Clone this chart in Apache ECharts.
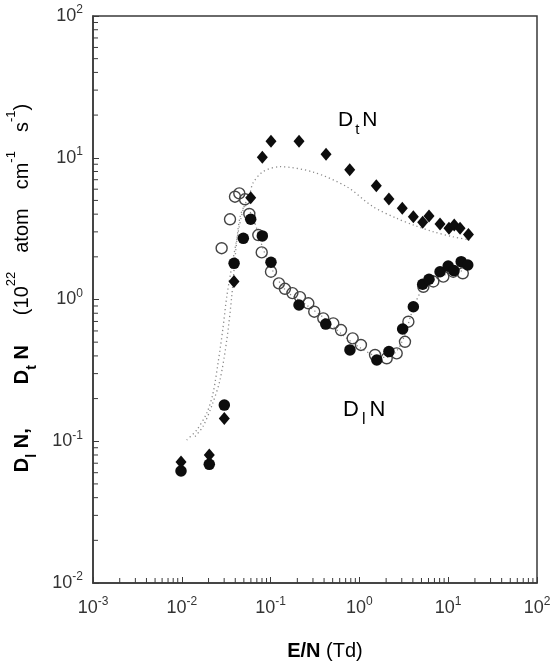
<!DOCTYPE html>
<html><head><meta charset="utf-8">
<script src="https://cdn.jsdelivr.net/npm/echarts@6/dist/echarts.min.js"></script>
<style>html,body{margin:0;padding:0;background:#fff}#c{width:555px;height:666px}</style>
</head><body><div id="c"></div>
<script>
// Dt N (filled diamonds)
const dtX = [0.0098, 0.0204, 0.0301, 0.0387, 0.0597, 0.0807, 0.101, 0.209, 0.421, 0.778, 1.55, 2.15, 3.04, 4.05, 5.16, 6.08, 8.09, 10.2, 11.7, 13.6, 16.9];
const dtY = [0.0714, 0.080, 0.145, 1.34, 5.22, 10.07, 13.1, 13.1, 10.6, 8.24, 6.35, 5.12, 4.40, 3.84, 3.51, 3.88, 3.41, 3.18, 3.36, 3.18, 2.88];
// Dl N (filled circles)
const dlFX = [0.0098, 0.0204, 0.0301, 0.0388, 0.0493, 0.0597, 0.0807, 0.101, 0.209, 0.418, 0.783, 1.57, 2.15, 3.07, 4.05, 5.16, 6.08, 8.09, 10.0, 11.6, 14.0, 16.6];
const dlFY = [0.0617, 0.0687, 0.180, 1.80, 2.70, 3.68, 2.81, 1.83, 0.914, 0.671, 0.441, 0.374, 0.429, 0.619, 0.889, 1.28, 1.39, 1.57, 1.72, 1.60, 1.85, 1.75];
// Dl N (open circles)
const dlOX = [0.0281, 0.0349, 0.0397, 0.0444, 0.0515, 0.0576, 0.0727, 0.0794, 0.101, 0.124, 0.145, 0.176, 0.214, 0.266, 0.310, 0.392, 0.508, 0.621, 0.840, 1.04, 1.50, 2.03, 2.63, 3.26, 3.56, 5.25, 6.80, 8.81, 11.4, 14.6];
const dlOY = [2.30, 3.68, 5.31, 5.61, 5.09, 4.01, 2.85, 2.15, 1.57, 1.30, 1.19, 1.11, 1.04, 0.94, 0.82, 0.736, 0.679, 0.609, 0.532, 0.478, 0.406, 0.385, 0.417, 0.503, 0.697, 1.23, 1.34, 1.45, 1.57, 1.53];
// dotted calculated curves
const curveTX = [0.01135, 0.0147, 0.0191, 0.0225, 0.0256, 0.0289, 0.0321, 0.0365, 0.0415, 0.0489, 0.0586, 0.0634, 0.082, 0.128, 0.300, 0.719, 1.42, 2.63, 4.02, 6.75, 11.3, 17.6];
const curveTY = [0.102, 0.120, 0.158, 0.219, 0.357, 0.609, 1.05, 1.70, 2.63, 4.28, 5.64, 6.64, 7.98, 8.65, 7.93, 6.25, 4.52, 3.74, 3.36, 3.01, 2.77, 2.63];
const curveLX = [0.0141, 0.0173, 0.0219, 0.0269, 0.0321, 0.0365, 0.0405, 0.0452, 0.052, 0.065, 0.080, 0.10, 0.15, 0.25, 0.40, 0.65, 1.0, 1.5, 2.0, 2.6, 3.2, 4.0, 5.0, 7.0, 10.0, 15.0];
const curveLY = [0.108, 0.127, 0.180, 0.270, 0.518, 1.05, 2.2, 3.8, 4.6, 3.6, 2.4, 1.7, 1.15, 0.92, 0.74, 0.56, 0.46, 0.40, 0.39, 0.43, 0.55, 0.85, 1.15, 1.38, 1.52, 1.6];
// axis ranges and minor tick values
const xRange = [0.001, 100];
const yRange = [0.01, 100];
const minorMult = [2, 3, 4, 5, 6, 7, 8, 9];
const xDecades = [-3, -2, -1, 0, 1];
const yDecades = [-2, -1, 0, 1];

const zip = (a, b) => a.map((v, i) => [v, b[i]]);
const xMinor = [], yMinor = [];
xDecades.forEach(d => minorMult.forEach(m => xMinor.push(m * Math.pow(10, d))));
yDecades.forEach(d => minorMult.forEach(m => yMinor.push(m * Math.pow(10, d))));

const AX = '#3a3a3a', TXT = '#333';
const FONT = '"Liberation Sans", Arial, sans-serif';
const tickRich = {
  b: { fontSize: 18, fontFamily: FONT, color: TXT, lineHeight: 24 },
  s: { fontSize: 12, fontFamily: FONT, color: TXT, verticalAlign: 'top', lineHeight: 14 }
};
const expFmt = v => '{b|10}{s|' + Math.round(Math.log10(v)) + '}';

const chart = echarts.init(document.getElementById('c'), null, { renderer: 'canvas' });
chart.setOption({
  animation: false,
  backgroundColor: '#fff',
  grid: { left: 93, right: 18, top: 16, bottom: 83, show: true, borderColor: AX, borderWidth: 1.5, backgroundColor: 'transparent' },
  xAxis: {
    type: 'log', logBase: 10, min: xRange[0], max: xRange[1],
    axisLine: { show: true, lineStyle: { color: AX, width: 1.5 } },
    axisTick: { show: true, inside: true, length: 6, lineStyle: { color: AX, width: 1 } },
    splitLine: { show: false },
    axisLabel: { formatter: expFmt, rich: tickRich, margin: 13 }
  },
  yAxis: {
    type: 'log', logBase: 10, min: yRange[0], max: yRange[1],
    axisLine: { show: true, lineStyle: { color: AX, width: 1.5 } },
    axisTick: { show: true, inside: true, length: 6, lineStyle: { color: AX, width: 1 } },
    splitLine: { show: false },
    axisLabel: { formatter: expFmt, rich: tickRich, margin: 10 }
  },
  series: [
    {
      type: 'custom', coordinateSystem: 'cartesian2d', silent: true, z: 1,
      data: xMinor.map(v => [v, yRange[0]]),
      renderItem: (p, api) => {
        const c = api.coord([api.value(0), api.value(1)]);
        return { type: 'line', shape: { x1: c[0], y1: c[1], x2: c[0], y2: c[1] - 5 }, style: { stroke: AX, lineWidth: 1 } };
      }
    },
    {
      type: 'custom', coordinateSystem: 'cartesian2d', silent: true, z: 1,
      data: yMinor.map(v => [xRange[0], v]),
      renderItem: (p, api) => {
        const c = api.coord([api.value(0), api.value(1)]);
        return { type: 'line', shape: { x1: c[0], y1: c[1], x2: c[0] + 5, y2: c[1] }, style: { stroke: AX, lineWidth: 1 } };
      }
    },
    { type: 'line', data: zip(curveTX, curveTY), smooth: 0.3, symbol: 'none',
      lineStyle: { type: [1.2, 3], width: 1.3, color: '#8a8a8a' }, z: 2 },
    { type: 'line', data: zip(curveLX, curveLY), smooth: 0.3, symbol: 'none',
      lineStyle: { type: [1.2, 3], width: 1.3, color: '#8a8a8a' }, z: 2 },
    { type: 'scatter', data: zip(dlOX, dlOY), symbol: 'circle', symbolSize: 11,
      itemStyle: { color: 'rgba(255,255,255,0)', borderColor: '#444', borderWidth: 1.4, opacity: 1 }, z: 3 },
    { type: 'scatter', data: zip(dlFX, dlFY), symbol: 'circle', symbolSize: 11.5,
      itemStyle: { color: '#0d0d0d', opacity: 1 }, z: 4 },
    { type: 'scatter', data: zip(dtX, dtY), symbol: 'diamond', symbolSize: [11, 13],
      itemStyle: { color: '#0d0d0d', opacity: 1 }, z: 4 }
  ],
  graphic: [
    { type: 'text', x: 22, y: 288, rotation: Math.PI / 2,
      style: {
        text: '{b|D}{bs|l}{b| N,}{g1| }{b|D}{bs|t}{b| N}{g2| }{n|(10}{ns|22}{g3| }{n|atom}{g3| }{n|cm}{ns|-1}{g3| }{n|s}{ns|-1}{n|)}',
        align: 'center', verticalAlign: 'middle',
        rich: {
          b: { fontSize: 20, fontWeight: 'bold', fontFamily: FONT, color: TXT, lineHeight: 34 },
          bs: { fontSize: 14, fontWeight: 'bold', fontFamily: FONT, color: TXT, verticalAlign: 'bottom', lineHeight: 16 },
          g1: { fontSize: 20, fontFamily: FONT, width: 44 },
          g2: { fontSize: 20, fontFamily: FONT, width: 30 },
          g3: { fontSize: 20, fontFamily: FONT, width: 19 },
          n: { fontSize: 20, fontFamily: FONT, color: TXT, lineHeight: 34 },
          ns: { fontSize: 13, fontFamily: FONT, color: TXT, verticalAlign: 'top', lineHeight: 24 }
        }
      } },
    { type: 'text', x: 325, y: 651,
      style: {
        text: '{b|E/N}{n| (Td)}', align: 'center', verticalAlign: 'middle',
        rich: {
          b: { fontSize: 20, fontWeight: 'bold', fontFamily: FONT, color: TXT },
          n: { fontSize: 20, fontFamily: FONT, color: TXT }
        }
      } },
    { type: 'text', x: 338, y: 120,
      style: {
        text: '{m|D}{s|t}{m|N}', align: 'left', verticalAlign: 'middle',
        rich: {
          m: { fontSize: 21, fontFamily: FONT, color: '#444', lineHeight: 34 },
          s: { fontSize: 15, fontFamily: FONT, color: '#444', verticalAlign: 'bottom', lineHeight: 16, padding: [0, 3, 0, 2] }
        }
      } },
    { type: 'text', x: 343, y: 410,
      style: {
        text: '{m|D}{s|l}{m|N}', align: 'left', verticalAlign: 'middle',
        rich: {
          m: { fontSize: 22, fontFamily: FONT, color: '#444', lineHeight: 36 },
          s: { fontSize: 16, fontFamily: FONT, color: '#444', verticalAlign: 'bottom', lineHeight: 16, padding: [0, 4, 0, 3] }
        }
      } }
  ]
});
</script>
</body></html>
